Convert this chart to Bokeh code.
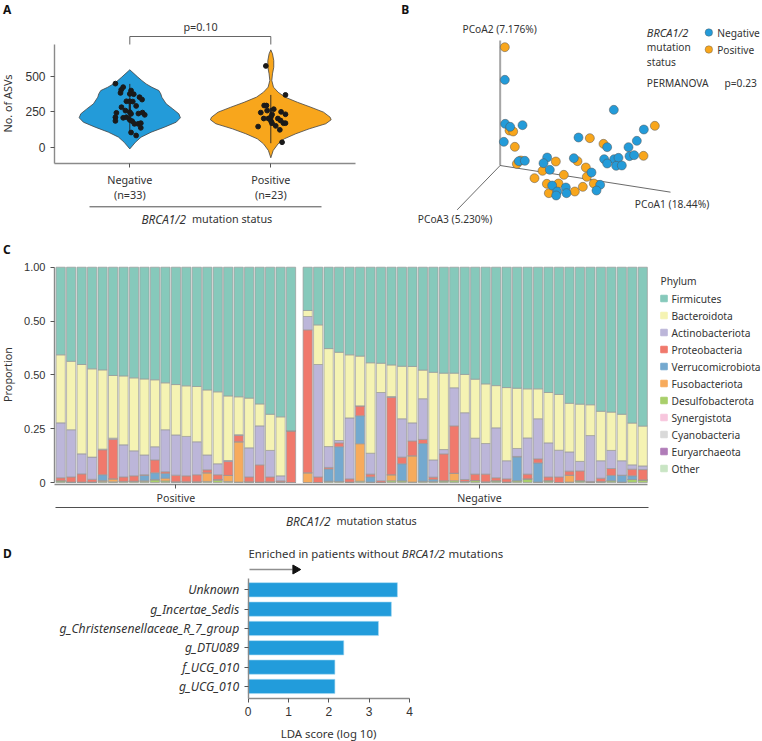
import numpy as np
from bokeh.plotting import figure
from bokeh.models import Range1d, ColumnDataSource, FixedTicker
from bokeh.layouts import column, row
from bokeh.core.properties import value
from bokeh.embed import file_html
from bokeh.resources import INLINE

BLUE = "#239bd9"
ORANGE = "#f8a61c"
SANS = "Noto Sans"
NUM = "Liberation Sans"
INK = "#333333"

# ---------- Panel A data ----------
groups = ["Negative\n(n=33)", "Positive\n(n=23)"]
asv_ticks = [0, 250, 500]
neg_levels = [-12, 35, 71, 106, 142, 177, 208, 236, 271, 307, 354, 377, 401, 424, 448, 472, 496, 548]
neg_width = [0.0, .04, .08, .151, .246, .329, .359, .348, .305, .258, .227, .22, .206, .157, .116, .085, .057, 0.0]
pos_levels = [-75, -23, 24, 59, 95, 130, 166, 194, 212, 248, 283, 318, 354, 389, 425, 472, 519, 566, 613, 661, 689]
pos_width = [0.0, .017, .052, .095, .177, .272, .39, .428, .421, .374, .284, .189, .102, .052, .019, .007, .012, .021, .021, .012, 0.0]
neg_off = [-.102, -.047, -.061, -.066, .009, 0, .028, .069, .087, -.024, 0, .021, .045, -.059, -.031, 0, -.095, .009, .061, .09, .106, -.102, -.047, -.024, 0, .017, -.102, .033, .059, .078, .078, .009, .045]
neg_asv = [450, 425, 406, 384, 401, 377, 375, 354, 337, 325, 325, 323, 292, 283, 259, 248, 243, 236, 238, 245, 229, 212, 208, 212, 193, 184, 186, 165, 165, 170, 137, 104, 83]
pos_off = [-.035, .104, -.047, -.031, .021, -.026, .073, -.071, .104, .009, 0, -.05, -.017, .05, .069, .09, .104, .009, .035, -.09, .064, .08, .002]
pos_asv = [575, 370, 295, 295, 269, 259, 250, 245, 233, 231, 212, 203, 203, 203, 189, 170, 170, 170, 151, 146, 123, 35, 184]
neg_box = (177, 330); neg_whisk = (106, 448)
pos_box = (153, 278); pos_whisk = (28, 370)

# ---------- Panel B data ----------
neg_px = [343, 344, 359, 396, 340, 385, 403, 470, 459, 478, 670, 760, 564, 739, 650, 714, 717, 731, 671, 684, 641, 650, 677, 694, 550, 603, 485, 526, 500, 497, 528, 629, 618]
neg_py = [238, 370, 379, 374, 424, 482, 481, 471, 488, 508, 328, 387, 411, 421, 440, 440, 467, 464, 476, 472, 476, 489, 496, 495, 473, 516, 555, 561, 573, 585, 578, 553, 570]
pos_px = [343, 357, 368, 373, 379, 391, 496, 456, 432, 520, 469, 504, 475, 553, 577, 561, 586, 589, 610, 598, 639, 793, 759]
pos_py = [140, 390, 393, 439, 490, 480, 483, 511, 533, 523, 550, 549, 578, 573, 559, 482, 501, 529, 549, 413, 430, 376, 466]

# ---------- Panel C data (23 Positive then 33 Negative) ----------
phyla = ["Firmicutes", "Bacteroidota", "Actinobacteriota", "Proteobacteria", "Verrucomicrobiota", "Fusobacteriota", "Desulfobacterota", "Synergistota", "Cyanobacteria", "Euryarchaeota", "Other"]
phylum_colors = ["#86c9bb", "#f5f3b3", "#bcb6d9", "#f0796c", "#74a9cf", "#f7ab5c", "#a9cf6b", "#f7c6dd", "#d9d9d9", "#b07cb8", "#c9e5c4"]
firmicutes = [.407, .437, .452, .472, .477, .503, .505, .514, .519, .523, .537, .545, .551, .554, .57, .579, .598, .602, .608, .635, .683, .695, .76,
              .201, .268, .378, .395, .407, .413, .444, .446, .454, .46, .461, .478, .488, .492, .492, .498, .52, .542, .55, .559, .562, .565, .565, .582, .591, .632, .636, .639, .669, .673, .683, .724, .738]
bacteroidota = [.316, .318, .415, .41, .368, .291, .32, .339, .353, .311, .218, .234, .235, .257, .302, .334, .3, .176, .231, .102, .168, .274, 0,
                .028, .184, .455, .41, .293, .231, .42, .136, .147, .244, .262, .133, .407, .355, .068, .178, .274, .277, .196, .34, .28, .228, .139, .234, .259, .226, .266, .143, .23, .178, .216, .194, .185]
actinobacteriota = [.255, .219, .093, .103, .003, .005, .149, .116, .092, .061, .195, .187, .183, .153, .069, .051, .004, .003, .135, .181, .123, .023, 0,
                    .062, .522, .097, .011, .283, 0, .097, .41, .003, .178, .084, .189, .08, .02, .177, .31, .167, .142, .232, .084, .037, .168, .186, .158, .124, .089, .044, .213, .081, .084, .067, .02, .017]
proteobacteria = [.014, .024, .038, .013, .116, .184, .021, .025, .003, .06, .008, .031, .028, .033, .014, .022, .065, .03, .023, .08, .023, .005, .24,
                  .664, .026, .007, .018, .015, .046, .013, .008, .36, .031, .069, .019, .011, .125, .22, .009, .03, .036, .014, .015, .002, .022, .019, .018, .026, .019, .046, .003, .016, .032, 0, .031, .048]
verrucomicrobiota = [0, 0, 0, 0, .027, 0, 0, 0, .025, .031, .022, 0, 0, 0, 0, 0, 0, 0, 0, 0, 0, 0, 0,
                     0, 0, .057, .161, 0, .13, .024, 0, 0, .079, 0, .175, .009, 0, 0, 0, 0, 0, 0, 0, .111, 0, .089, 0, 0, 0, 0, 0, 0, .025, .032, .017, 0]
fusobacteriota = [0, 0, 0, 0, .004, .014, 0, 0, .002, .002, .013, 0, 0, 0, .04, .004, .028, .187, 0, 0, 0, 0, 0,
                  .045, 0, 0, 0, 0, .174, 0, 0, .028, 0, .122, 0, 0, 0, .035, 0, 0, 0, 0, 0, 0, 0, 0, 0, 0, .032, 0, 0, 0, 0, 0, 0, 0]
desulfobacterota = [.008, .002, .002, .002, .005, .003, .005, .006, .006, .012, .007, .003, .003, .003, .005, .01, .005, .002, .003, .002, .003, .003, 0,
                    0, 0, .006, .005, .002, .006, .002, 0, .008, .008, .002, .006, .005, .008, .008, .005, .009, .003, .008, .002, .008, .017, .002, .008, 0, .002, .008, .002, .004, .008, .002, .014, .012]
group_labels = ["Positive", "Negative"]
prop_ticks = [0, .25, .5, .75, 1]
prop_labels = {0: "0", .25: "0.25", .5: "0.50", .75: "0.50", 1: "1.00"}

# ---------- Panel D data ----------
taxa = ["Unknown", "g_Incertae_Sedis", "g_Christensenellaceae_R_7_group", "g_DTU089", "f_UCG_010", "g_UCG_010"]
lda = [3.70, 3.55, 3.23, 2.37, 2.15, 2.15]


def base(w, h, xr, yr):
    p = figure(width=w, height=h, x_range=Range1d(*xr), y_range=Range1d(*yr), output_backend="svg",
               toolbar_location=None, min_border=0, outline_line_color=None, background_fill_color="white")
    p.grid.visible = False
    return p


def txt(p, x, y, s, size=10.8, align="left", style="normal", font=SANS, color=INK, angle=0):
    p.text(x=[x], y=[y], text=[s], text_font=value(font), text_font_size=f"{size}px", text_align=align,
           text_baseline="middle", text_font_style=style, text_color=color, angle=angle)


def style_axis(ax, size="11.5px", font=NUM):
    ax.axis_line_color = "#8a8a8a"
    ax.axis_line_width = 1.4
    ax.major_tick_line_color = "#555555"
    ax.major_tick_in = 0
    ax.major_tick_out = 4
    ax.minor_tick_line_color = None
    ax.major_label_text_font = font
    ax.major_label_text_font_size = size
    ax.major_label_text_color = INK


# ---------- Panel A ----------
H_TOP = 240
ax_ = lambda px: 1 + (px - 129.3) / 141
ay_ = lambda py: (146.7 - py) / 0.1413
A = base(385, H_TOP, (ax_(0), ax_(385)), (ay_(H_TOP), ay_(0)))
for c, lv, wd, col in [(1, neg_levels, neg_width, BLUE), (2, pos_levels, pos_width, ORANGE)]:
    lv = np.array(lv, float); wd = np.array(wd, float)
    A.patch(np.r_[c - wd, (c + wd)[::-1]], np.r_[lv, lv[::-1]], fill_color=col, line_color="#444444", line_width=0.8)
for c, bx, wh in [(1, neg_box, neg_whisk), (2, pos_box, pos_whisk)]:
    A.segment([c], [wh[0]], [c], [wh[1]], line_color="#222222", line_width=0.9)
    A.segment([c], [bx[0]], [c], [bx[1]], line_color="#222222", line_width=2.2)
A.scatter(1 + np.array(neg_off), neg_asv, size=4.8, color="#1a1a1a")
A.scatter(2 + np.array(pos_off), pos_asv, size=4.8, color="#1a1a1a")
A.xaxis.fixed_location = ay_(163)
A.yaxis.fixed_location = ax_(54)
A.xaxis.bounds = (ax_(54), ax_(355))
A.yaxis.bounds = (ay_(163), ay_(44))
A.xaxis.ticker = FixedTicker(ticks=[1, 2])
A.yaxis.ticker = FixedTicker(ticks=asv_ticks)
A.xaxis.major_label_overrides = {1: groups[0], 2: groups[1]}
style_axis(A.xaxis[0], "10.8px", SANS)
style_axis(A.yaxis[0], "12px", NUM)
A.xaxis.major_label_standoff = 4
A.xaxis.major_label_text_line_height = 1.0
A.line([1, 1, 2, 2], [ay_(44), ay_(36), ay_(36), ay_(44)], line_color="#555555", line_width=0.9)
txt(A, ax_(200), ay_(26), "p=0.10", align="center")
txt(A, ax_(7), ay_(103), "No. of ASVs", align="center", angle=np.pi / 2)
A.line([ax_(89), ax_(321)], [ay_(206.3)] * 2, line_color="#222222", line_width=0.8)
txt(A, ax_(185.5), ay_(218), "BRCA1/2", size=11.8, align="right", style="italic")
txt(A, ax_(191.5), ay_(218), "mutation status")
txt(A, ax_(2.5), ay_(9), "A", size=12, style="bold", color="#111111")

# ---------- Panel B (projected coordinates) ----------
bx_ = lambda px: (px - 390) * 3
B = base(377, H_TOP, (bx_(385), bx_(762)), (H_TOP * 3, 0))
B.axis.visible = False
B.segment([329], [495], [329], [120], line_color="#a6a6a6", line_width=2)
B.segment([329], [495], [840], [575], line_color="#444444", line_width=0.8)
B.segment([329], [495], [200], [628], line_color="#444444", line_width=0.8)
B.scatter(pos_px, pos_py, size=9, fill_color=ORANGE, line_color="#555555", line_width=0.5)
B.scatter(neg_px, neg_py, size=9, fill_color=BLUE, line_color="#555555", line_width=0.5)
BS = 10.2
txt(B, 216, 86, "PCoA2 (7.176%)", size=BS)
txt(B, 733, 610, "PCoA1 (18.44%)", size=BS)
txt(B, 82, 656, "PCoA3 (5.230%)", size=BS)
txt(B, 769, 96, "BRCA1/2", size=11, style="italic")
txt(B, 769, 140, "mutation", size=BS)
txt(B, 769, 184, "status", size=BS)
txt(B, 769, 248, "PERMANOVA", size=BS)
txt(B, 1002, 248, "p=0.23", size=BS)
B.scatter([955], [96], size=7.5, fill_color=BLUE, line_color="#555555", line_width=0.4)
B.scatter([955], [147], size=7.5, fill_color=ORANGE, line_color="#555555", line_width=0.4)
txt(B, 980, 96, "Negative", size=BS)
txt(B, 980, 147, "Positive", size=BS)
txt(B, 32, 27, "B", size=12, style="bold", color="#111111")

# ---------- Panel C ----------
H_C = 295
cx_ = lambda px: (px - 60.2) / 10.47
cy_ = lambda py: (482 - py) / 215.3
C = base(762, H_C, (cx_(0), cx_(762)), (cy_(H_TOP + H_C), cy_(H_TOP)))
xpos = np.r_[np.arange(23.0), 23.59 + np.arange(33.0)]
layers = dict(x=xpos, Firmicutes=firmicutes, Bacteroidota=bacteroidota, Actinobacteriota=actinobacteriota,
              Proteobacteria=proteobacteria, Verrucomicrobiota=verrucomicrobiota, Fusobacteriota=fusobacteriota,
              Desulfobacterota=desulfobacterota)
names = phyla[:7][::-1]
cols = phylum_colors[:7][::-1]
C.vbar_stack(names, x="x", width=0.88, source=ColumnDataSource(layers), fill_color=cols,
             line_color="#999999", line_width=0.7)
C.xaxis.fixed_location = cy_(483.5)
C.yaxis.fixed_location = cx_(54)
C.xaxis.bounds = (cx_(54), cx_(647))
C.yaxis.bounds = (0, 1)
C.xaxis.ticker = FixedTicker(ticks=[11, 40])
C.xaxis.major_label_overrides = {11: group_labels[0], 40: group_labels[1]}
C.yaxis.ticker = FixedTicker(ticks=prop_ticks)
C.yaxis.major_label_overrides = prop_labels
style_axis(C.xaxis[0], "10.6px", SANS)
style_axis(C.yaxis[0], "11px", NUM)
C.xaxis.major_label_standoff = 3
txt(C, cx_(7), cy_(374), "Proportion", align="center", angle=np.pi / 2)
C.line([cx_(55), cx_(648)], [cy_(507)] * 2, line_color="#222222", line_width=0.8)
txt(C, cx_(330), cy_(520), "BRCA1/2", size=11.8, align="right", style="italic")
txt(C, cx_(336), cy_(520), "mutation status")
txt(C, cx_(660), cy_(280), "Phylum", size=10.2)
for i, (nm, col) in enumerate(zip(phyla, phylum_colors)):
    yy = 298 + 17 * i
    C.scatter([cx_(663.5)], [cy_(yy)], marker="square", size=6.5, color=col)
    txt(C, cx_(671), cy_(yy), nm, size=10.2)
txt(C, cx_(2.5), cy_(249), "C", size=12, style="bold", color="#111111")

# ---------- Panel D ----------
H_D = 741 - H_TOP - H_C
TOP_D = H_TOP + H_C
dx_ = lambda px: (px - 247.7) / 40.33
dy_ = lambda py: (py - 589.3) / 19.33
D = base(762, H_D, (dx_(0), dx_(762)), (dy_(741), dy_(TOP_D)))
D.hbar(y=list(range(6)), left=0, right=lda, height=0.74, fill_color="#229cdb", line_color="#a8daf2", line_width=0.6)
D.xaxis.fixed_location = dy_(697.7)
D.yaxis.fixed_location = 0
D.xaxis.bounds = (0, 4)
D.yaxis.bounds = (dy_(577.7), dy_(697.7))
D.xaxis.ticker = FixedTicker(ticks=[0, 1, 2, 3, 4])
D.yaxis.ticker = FixedTicker(ticks=list(range(6)))
D.yaxis.major_label_overrides = {i: t for i, t in enumerate(taxa)}
style_axis(D.xaxis[0], "12px", NUM)
style_axis(D.yaxis[0], "12.2px", SANS)
D.yaxis.major_label_text_font_style = "italic"
D.yaxis.major_label_standoff = 5
D.xaxis.major_label_standoff = 5
txt(D, dx_(328), dy_(733), "LDA score (log 10)", size=11.4, align="center")
txt(D, dx_(248), dy_(553), "Enriched in patients without", size=11.4)
txt(D, dx_(401.3), dy_(553), "BRCA1/2", size=11.4, style="italic")
txt(D, dx_(448), dy_(553), "mutations", size=11.4)
D.segment([dx_(249)], [dy_(569)], [dx_(292)], [dy_(569)], line_color="#8f8f8f", line_width=1.4)
D.scatter([dx_(295)], [dy_(569)], marker="triangle", size=9, angle=-np.pi / 2, color="#111111")
txt(D, dx_(2.5), dy_(553), "D", size=12, style="bold", color="#111111")

root = column(row(A, B, spacing=0), C, D, spacing=0,
              styles={"position": "absolute", "left": "0px", "top": "0px"})
open("out.html", "w").write(file_html(root, INLINE))
